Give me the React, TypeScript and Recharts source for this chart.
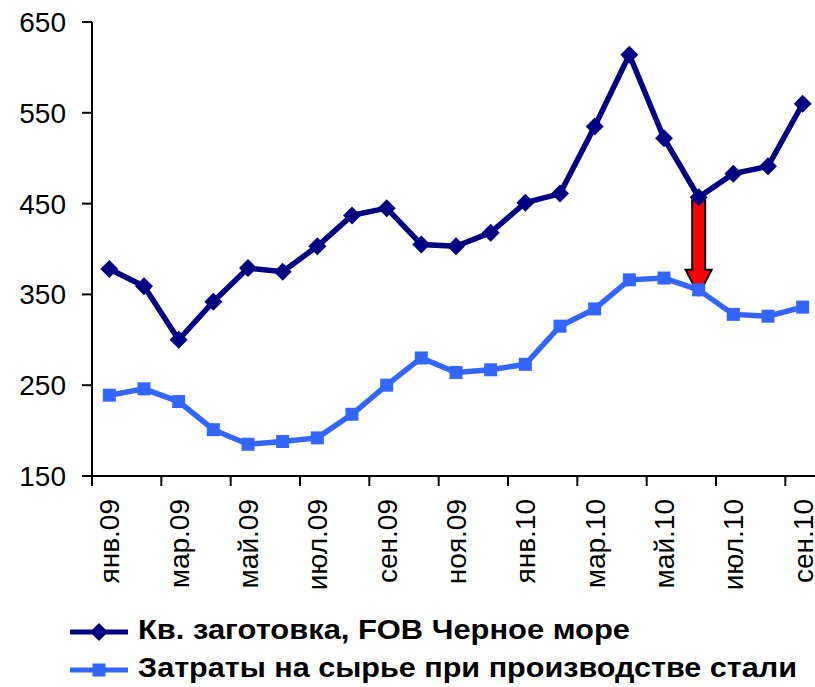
import React from "react";
import {
  LineChart,
  Line,
  XAxis,
  YAxis,
  Legend,
  ReferenceLine,
} from "recharts";

// months jan.09 .. sep.10
const months = [
  "янв.09", "фев.09", "мар.09", "апр.09", "май.09", "июн.09", "июл.09",
  "авг.09", "сен.09", "окт.09", "ноя.09", "дек.09", "янв.10", "фев.10",
  "мар.10", "апр.10", "май.10", "июн.10", "июл.10", "авг.10", "сен.10",
];
const billet = [
  378, 359, 300, 342, 379, 375, 403, 437, 445, 405, 403,
  418, 451, 461, 535, 614, 522, 457, 483, 491, 560,
];
const rawCost = [
  239, 246, 232, 201, 185, 188, 192, 218, 250, 280, 264,
  267, 273, 315, 334, 366, 368, 355, 328, 326, 336,
];
const yTicks = [150, 250, 350, 450, 550, 650];
const seriesNames = [
  "Кв. заготовка, FOB Черное море",
  "Затраты на сырье при производстве стали",
];

// index of the month the red arrow points at
const arrowIdx = 17;

const data = months.map((m, i) => ({ month: m, billet: billet[i], raw: rawCost[i] }));

const FONT = "'Liberation Sans', Arial, sans-serif";
const DARK = "#000080";
const LIGHT = "#3366FF";

const Diamond = (props: any) => {
  const { cx, cy } = props;
  if (cx == null || cy == null) return null;
  const r = 9;
  return (
    <polygon
      points={`${cx},${cy - r} ${cx + r},${cy} ${cx},${cy + r} ${cx - r},${cy}`}
      fill={DARK}
    />
  );
};

const Square = (props: any) => {
  const { cx, cy } = props;
  if (cx == null || cy == null) return null;
  const s = 13;
  return <rect x={cx - s / 2} y={cy - s / 2} width={s} height={s} fill={LIGHT} />;
};

const MonthTick = (props: any) => {
  const { x, y, payload } = props;
  const off = payload.offset || 0;
  return (
    <g>
      <line x1={x - off} y1={y - 10} x2={x - off} y2={y} stroke="#000" strokeWidth={2} />
      <text
        x={x}
        y={y + 13}
        dy="0.36em"
        transform={`rotate(-90, ${x}, ${y + 13})`}
        textAnchor="end"
        fontFamily={FONT}
        fontSize={28}
        fill="#000"
      >
        {payload.value}
      </text>
    </g>
  );
};

const Arrow = (props: any) => {
  const { x1, y1, y2 } = props;
  if (x1 == null || y1 == null || y2 == null) return null;
  const top = y1 + 3;
  const tip = y2 + 5;
  const headLen = 25;
  const sw = 6.5;
  const hw = 13;
  const pts = [
    [x1 - sw, top],
    [x1 + sw, top],
    [x1 + sw, tip - headLen],
    [x1 + hw, tip - headLen],
    [x1, tip],
    [x1 - hw, tip - headLen],
    [x1 - sw, tip - headLen],
  ]
    .map((p) => p.join(","))
    .join(" ");
  return <polygon points={pts} fill="#FF0000" stroke="#000" strokeWidth={2} />;
};

const textWidths = [492, 659];
const seriesColors = [DARK, LIGHT];

const LegendBox = () => (
  <div style={{ height: 81 }}>
    <svg width={815} height={81}>
      {seriesNames.map((name, i) => {
        const cy = 26 + i * 38;
        return (
          <g key={name}>
            <line x1={70} y1={cy} x2={128} y2={cy} stroke={seriesColors[i]} strokeWidth={5} />
            {i === 0 ? <Diamond cx={99} cy={cy} /> : <Square cx={99} cy={cy} />}
            <text
              x={138}
              y={cy + 7}
              fontFamily={FONT}
              fontWeight="bold"
              fontSize={27}
              textLength={textWidths[i]}
              lengthAdjust="spacingAndGlyphs"
              fill="#000"
            >
              {name}
            </text>
          </g>
        );
      })}
    </svg>
  </div>
);

export default function App() {
  return (
    <div style={{ position: "absolute", left: 0, top: 0, width: 815, height: 687, overflow: "hidden", background: "#fff" }}>
      <LineChart
        width={815}
        height={687}
        data={data}
        margin={{ top: 22, right: -5, bottom: 0, left: 0 }}
      >
        <XAxis
          dataKey="month"
          scale="band"
          interval={1}
          height={130}
          tickSize={10}
          tickMargin={0}
          tickLine={false}
          axisLine={{ stroke: "#000", strokeWidth: 2 }}
          tick={<MonthTick />}
        />
        <YAxis
          domain={[150, 650]}
          ticks={yTicks}
          width={92}
          tickSize={10}
          tickMargin={16}
          axisLine={{ stroke: "#000", strokeWidth: 2 }}
          tickLine={{ stroke: "#000", strokeWidth: 2 }}
          tick={{ fontFamily: FONT, fontSize: 28, fill: "#000" }}
        />
        <Line
          type="linear"
          dataKey="billet"
          name={seriesNames[0]}
          stroke={DARK}
          strokeWidth={5.5}
          dot={<Diamond />}
          activeDot={false}
          isAnimationActive={false}
        />
        <Line
          type="linear"
          dataKey="raw"
          name={seriesNames[1]}
          stroke={LIGHT}
          strokeWidth={5.5}
          dot={<Square />}
          activeDot={false}
          isAnimationActive={false}
        />
        <ReferenceLine
          segment={[
            { x: months[arrowIdx], y: billet[arrowIdx] },
            { x: months[arrowIdx], y: rawCost[arrowIdx] },
          ]}
          shape={(p: any) => <Arrow {...p} />}
          ifOverflow="visible"
        />
        <Legend
          verticalAlign="bottom"
          content={<LegendBox />}
          wrapperStyle={{ left: 0, width: 815 }}
        />
      </LineChart>
    </div>
  );
}
